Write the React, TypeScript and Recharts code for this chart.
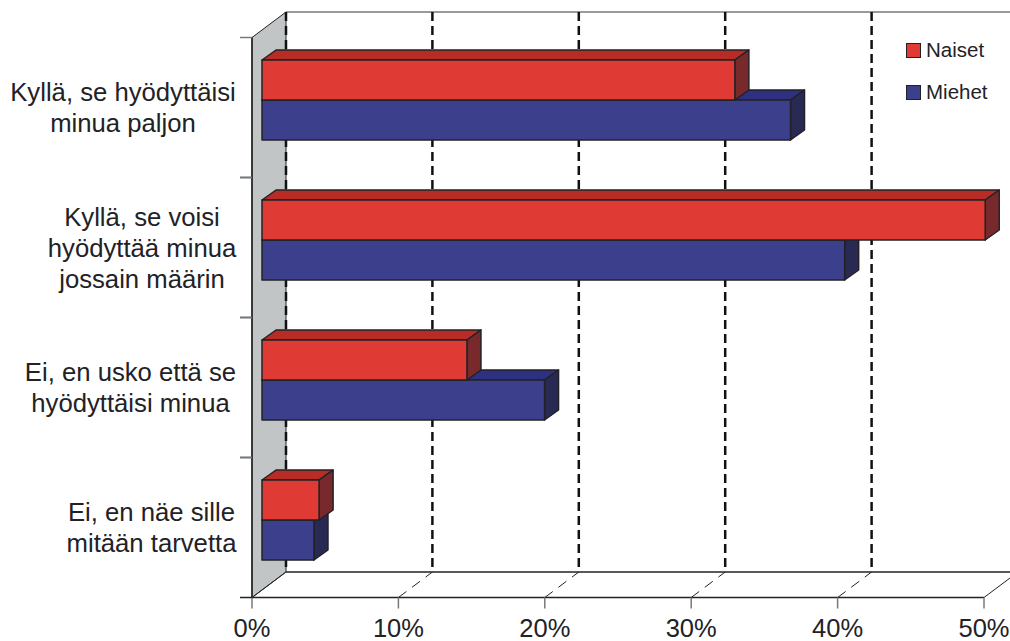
import React from 'react';
import { BarChart, Bar, XAxis, YAxis, CartesianGrid, Legend } from 'recharts';

const categories = [
  'Kyllä, se hyödyttäisi minua paljon',
  'Kyllä, se voisi hyödyttää minua jossain määrin',
  'Ei, en usko että se hyödyttäisi minua',
  'Ei, en näe sille mitään tarvetta',
];
const naiset = [32.3, 49.4, 14, 3.9];
const miehet = [36.1, 39.8, 19.3, 3.55];
const xTicks = [0, 10, 20, 30, 40, 50];

// wrapped label lines and the x they are centred on
const labelLines = [
  ['Kyllä, se hyödyttäisi', 'minua paljon'],
  ['Kyllä, se voisi', 'hyödyttää minua', 'jossain määrin'],
  ['Ei, en usko että se', 'hyödyttäisi minua'],
  ['Ei, en näe sille', 'mitään tarvetta'],
];
const labelCenters = [123, 142, 130.5, 151.5];

const data = categories.map((name, i) => ({ name, naiset: naiset[i], miehet: miehet[i] }));

const FONT = '"Liberation Sans", Arial, sans-serif';
const INK = '#222226';
const WALL_DX = 34;
const WALL_DY = 25.5;
const BAR_DX = 14;
const BAR_DY = 10;

const RED = { front: '#DF3A34', top: '#B82C26', side: '#78292B' };
const BLUE = { front: '#3C408C', top: '#2E3080', side: '#292A54' };

// 3D box, offsetY moves the bar from the middle of the band to its slot
const box = (colors: typeof RED, offsetY: number) => (props: any) => {
  const x = props.x + 10;
  const y = props.y + offsetY;
  const w = props.width;
  const h = props.height;
  const edge = { stroke: INK, strokeWidth: 1.5, strokeLinejoin: 'round' as const };
  return (
    <g>
      <polygon
        points={`${x},${y} ${x + BAR_DX},${y - BAR_DY} ${x + w + BAR_DX},${y - BAR_DY} ${x + w},${y}`}
        fill={colors.top}
        {...edge}
      />
      <polygon
        points={`${x + w},${y} ${x + w + BAR_DX},${y - BAR_DY} ${x + w + BAR_DX},${y + h - BAR_DY} ${x + w},${y + h}`}
        fill={colors.side}
        {...edge}
      />
      <rect x={x} y={y} width={w} height={h} fill={colors.front} {...edge} />
    </g>
  );
};

// grid lines go on the back wall, joined to the axis across the floor
const GridLine = (props: any) => {
  const { x1, y1, y2, index } = props;
  const bx = x1 + WALL_DX;
  const topY = y1 - WALL_DY;
  const floorY = y2 - WALL_DY;
  const isFirst = index === 0;
  const isLast = index === xTicks.length - 1;
  return (
    <g>
      {isFirst && (
        <>
          <polygon
            points={`${x1},${y1} ${bx},${topY} ${bx},${floorY} ${x1},${y2}`}
            fill="#C1C5C6"
            stroke={INK}
            strokeWidth={1}
          />
          <line x1={bx} y1={topY} x2={1010} y2={topY} stroke="#77797A" strokeWidth={1.5} />
          <line x1={bx} y1={floorY} x2={1010} y2={floorY} stroke={INK} strokeWidth={1.5} />
        </>
      )}
      <line
        x1={x1}
        y1={y2}
        x2={bx}
        y2={floorY}
        stroke={INK}
        strokeWidth={1}
        strokeDasharray={isFirst || isLast ? undefined : '10 7'}
      />
      {!isLast && (
        <line x1={bx} y1={topY} x2={bx} y2={floorY} stroke="#111" strokeWidth={2.5} strokeDasharray="9 5" />
      )}
    </g>
  );
};

const CategoryTick = (props: any) => {
  const { x, y, index } = props;
  const lines = labelLines[index];
  const startY = y - ((lines.length - 1) * 31) / 2 + 9;
  return (
    <g>
      <line x1={x - 4} y1={y - 70} x2={x + 8} y2={y - 70} stroke="#77797A" strokeWidth={1.5} />
      <line x1={x - 4} y1={y + 70} x2={x + 8} y2={y + 70} stroke={INK} strokeWidth={1.5} />
      <text textAnchor="middle" fontFamily={FONT} fontSize={25.7} fill={INK}>
        {lines.map((line, i) => (
          <tspan key={line} x={labelCenters[index]} y={startY + i * 31}>
            {line}
          </tspan>
        ))}
      </text>
    </g>
  );
};

const LegendBox = () => (
  <div style={{ position: 'absolute', left: 906, top: 38, fontFamily: FONT, fontSize: 20.5, color: INK }}>
    {[
      { label: 'Naiset', color: RED.front },
      { label: 'Miehet', color: BLUE.front },
    ].map((item) => (
      <div key={item.label} style={{ display: 'flex', alignItems: 'center', height: 24, marginBottom: 18 }}>
        <span
          style={{
            width: 13,
            height: 13,
            background: item.color,
            border: `1px solid ${INK}`,
            marginRight: 5,
          }}
        />
        {item.label}
      </div>
    ))}
  </div>
);

export default function App() {
  return (
    <div style={{ position: 'absolute', left: 0, top: 0 }}>
      <BarChart
        width={1010}
        height={641}
        data={data}
        layout="vertical"
        margin={{ top: 37.5, right: 26, bottom: 0, left: 0 }}
        barGap={0}
        barCategoryGap={0}
      >
        <CartesianGrid horizontal={false} vertical={(p: any) => <GridLine key={p.index} {...p} />} stroke="none" />
        <XAxis
          type="number"
          domain={[0, 50]}
          ticks={xTicks}
          interval={0}
          height={43.5}
          tickFormatter={(v: number) => `${v}%`}
          tick={{ fontFamily: FONT, fontSize: 25.5, fill: INK }}
          tickSize={11}
          tickMargin={10}
          axisLine={{ stroke: INK, strokeWidth: 1.5 }}
          tickLine={{ stroke: '#77797A', strokeWidth: 1.5 }}
        />
        <YAxis
          type="category"
          dataKey="name"
          width={252}
          interval={0}
          tick={<CategoryTick />}
          tickLine={false}
          axisLine={{ stroke: INK, strokeWidth: 1.5 }}
        />
        <YAxis type="category" dataKey="name" yAxisId="b" hide />
        <Legend content={<LegendBox />} wrapperStyle={{ position: 'absolute', left: 0, top: 0, width: 0, height: 0 }} />
        <Bar dataKey="miehet" yAxisId="b" barSize={40} isAnimationActive={false} shape={box(BLUE, 12.5)} />
        <Bar dataKey="naiset" barSize={40} isAnimationActive={false} shape={box(RED, -27.5)} />
      </BarChart>
    </div>
  );
}
